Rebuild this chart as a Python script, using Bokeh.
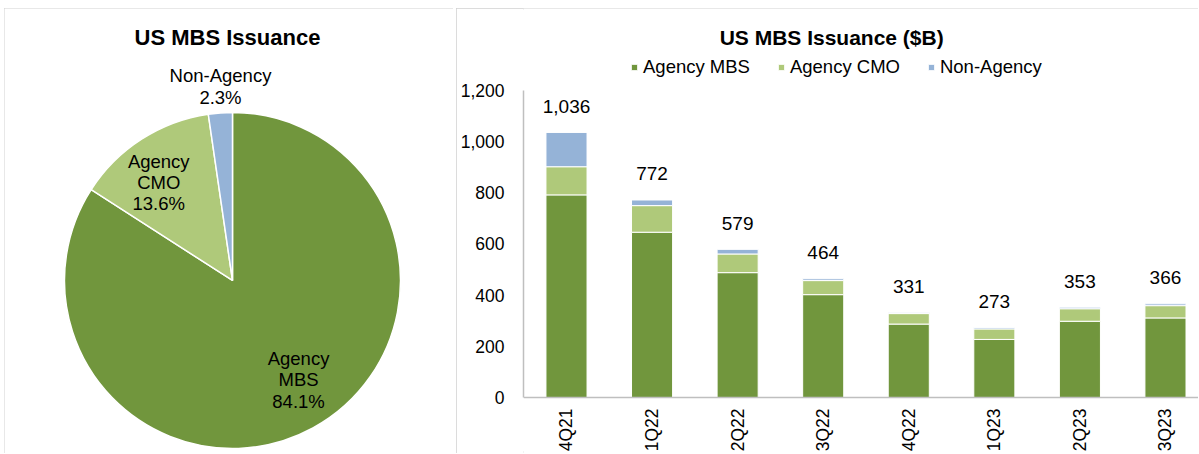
import numpy as np
from bokeh.plotting import figure
from bokeh.models import (Range1d, FixedTicker, NumeralTickFormatter, Legend,
                          LegendItem, ColumnDataSource, Spacer)
from bokeh.layouts import row, column
from bokeh.embed import file_html
from bokeh.resources import INLINE
from bokeh.core.properties import value

FONT = "Liberation Sans"

# ---------------- data ----------------
pie_names = ["Agency MBS", "Agency CMO", "Non-Agency"]
pie_label_text = ["Agency\nMBS", "Agency\nCMO", "Non-Agency"]
pie_shares = [84.1, 13.6, 2.3]
series_colors = ["#71963D", "#AFC97A", "#95B3D7"]

quarters = ["4Q21", "1Q22", "2Q22", "3Q22", "4Q22", "1Q23", "2Q23", "3Q23"]
agency_mbs = [792, 646, 488, 402, 287, 227, 298, 311]
agency_cmo = [110, 104, 73, 55, 41, 41, 49, 48]
non_agency = [134, 22, 18, 7, 3, 5, 6, 7]
y_ticks = [0, 200, 400, 600, 800, 1000, 1200]

pie_title = "US MBS Issuance"
bar_title = "US MBS Issuance ($B)"

# ---------------- layout constants ----------------
label_radius = [0.71, 0.73, 1.157]
label_angle_nudge = [5.0, 4.2, -0.6]
BORDER = {"outline": "2px solid #d0d0d0", "outline-offset": "-2px"}
H = 445

# ---------------- pie ----------------
pie = figure(width=449, height=H, x_range=Range1d(-1.3571, 1.3155),
             y_range=Range1d(-1.0298, 1.6190), output_backend="svg",
             toolbar_location=None, min_border=0, styles=BORDER)
pie.axis.visible = False
pie.grid.visible = False
pie.outline_line_color = None

frac = np.array(pie_shares) / np.sum(pie_shares)
cum = np.cumsum(frac)
start = np.pi / 2 - 2 * np.pi * (cum - frac)
end = np.pi / 2 - 2 * np.pi * cum
mid = (start + end) / 2 + np.radians(label_angle_nudge)
lx = np.array(label_radius) * np.cos(mid)
ly = np.array(label_radius) * np.sin(mid)
pie_src = ColumnDataSource(dict(start=start, end=end, color=series_colors,
                                lx=lx, ly=ly,
                                text=[f"{t}\n{s:.1f}%" for t, s in zip(pie_label_text, pie_shares)]))
pie.wedge(x=0, y=0, radius=1, start_angle="start", end_angle="end",
          direction="clock", fill_color="color", line_color="white",
          line_width=1.5, source=pie_src)
pie.text(x="lx", y="ly", text="text", source=pie_src, text_align="center",
         text_baseline="middle", text_font=value(FONT), text_font_size="18.5px",
         text_color="#000000", text_line_height=1.02)
pie.text(x=[-0.03], y=[1.4464], text=[pie_title], text_align="center",
         text_baseline="middle", text_font=value(FONT), text_font_size="22px",
         text_font_style="bold", text_color="#000000")

# ---------------- stacked bars ----------------
xs = np.arange(len(quarters))
totals = [a + b + c for a, b, c in zip(agency_mbs, agency_cmo, non_agency)]
src = ColumnDataSource(dict(x=xs, mbs=agency_mbs, cmo=agency_cmo, na=non_agency,
                            total=totals, label=[f"{t:,}" for t in totals]))

bar = figure(width=742, height=H, x_range=Range1d(-0.5025, 7.386),
             y_range=Range1d(-218.9, 1520.5), output_backend="svg",
             toolbar_location=None, min_border_left=67, min_border_right=0,
             min_border_top=0, min_border_bottom=0, styles=BORDER)
bar.outline_line_color = None
bar.grid.visible = False

rs = bar.vbar_stack(["mbs", "cmo", "na"], x="x", width=0.48,
                    fill_color=series_colors, line_color="white",
                    line_width=1, source=src)
bar.text(x="x", y="total", text="label", source=src, text_align="center",
         text_baseline="middle", y_offset=-26, text_font=value(FONT),
         text_font_size="19px", text_color="#000000")
bar.text(x=[3.099], y=[1407.2], text=[bar_title], text_align="center",
         text_baseline="middle", text_font=value(FONT), text_font_size="21px",
         text_font_style="bold", text_color="#000000")

legend = Legend(items=[LegendItem(label=n, renderers=[r]) for n, r in zip(pie_names, rs)],
                orientation="horizontal", location=(107, 375),
                label_text_font=FONT, label_text_font_size="18.5px",
                label_text_color="#000000",
                glyph_width=8, glyph_height=8, label_standoff=5, spacing=27,
                padding=0, margin=0, border_line_color=None,
                background_fill_alpha=0)
bar.add_layout(legend)

bar.yaxis.ticker = FixedTicker(ticks=y_ticks)
bar.yaxis.formatter = NumeralTickFormatter(format="0,0")
bar.yaxis.bounds = (0, 1200)
bar.xaxis.ticker = FixedTicker(ticks=list(xs))
bar.xaxis.major_label_overrides = {int(i): q for i, q in zip(xs, quarters)}
bar.xaxis.major_label_orientation = np.pi / 2
bar.xaxis.fixed_location = 0
for ax in (bar.xaxis, bar.yaxis):
    ax.major_tick_line_color = None
    ax.minor_tick_line_color = None
    ax.major_tick_out = 0
    ax.major_tick_in = 0
    ax.minor_tick_out = 0
    ax.minor_tick_in = 0
    ax.axis_line_color = "#bfbfbf"
    ax.axis_line_width = 1.5
    ax.major_label_text_font = FONT
    ax.major_label_text_font_size = "17.5px"
    ax.major_label_text_color = "#000000"
bar.yaxis.major_label_standoff = 19
bar.xaxis.major_label_standoff = 11

layout = column(Spacer(width=20, height=8),
                row(Spacer(width=4, height=H), pie, Spacer(width=3, height=H), bar))
open("out.html", "w").write(file_html(layout, INLINE))
